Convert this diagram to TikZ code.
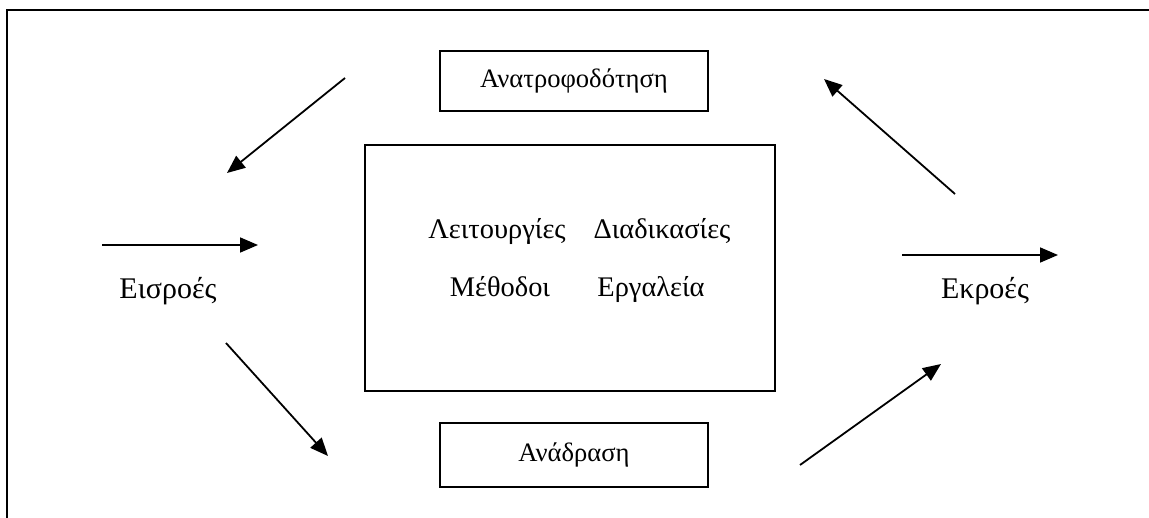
\documentclass[tikz,border=0pt]{standalone}
\usepackage{fontspec}
\setmainfont{Liberation Serif}
\usetikzlibrary{positioning,arrows.meta}
\tikzset{label box/.style={draw,line width=1pt,minimum width=134pt,minimum height=30pt,font=\fontsize{13.3}{16}\selectfont},
         core box/.style={draw,line width=1pt,minimum width=205pt,minimum height=123pt},
         core text/.style={anchor=base,font=\fontsize{14.2}{17}\selectfont},
         side text/.style={anchor=base,font=\fontsize{15}{18}\selectfont},
         flow/.style={line width=0.9pt,-{Triangle[length=9pt,width=7.5pt]}},}

\begin{document}
\begin{tikzpicture}[x=0.5pt,y=-0.5pt]
        \useasboundingbox (0,0) rectangle (1149,518);
        % Frame
        \draw[line width=1pt] (7,518) -- (7,10) -- (1149,10);
        % Nodes
        \node[core box] (core) at (570,268) {};
        \node[label box] (feedback) at (574,81) {Ανατροφοδότηση};
        \node[label box,minimum height=32pt] (response) at (574,455) {Ανάδραση};
        \node[core text] (functions) at (497,238) {Λειτουργίες};
        \node[core text] (procedures) at (662,238) {Διαδικασίες};
        \node[core text] (methods) at (500,296) {Μέθοδοι};
        \node[core text] (tools) at (651,296) {Εργαλεία};
        \node[side text] (inputs) at (168,298) {Εισροές};
        \node[side text] (outputs) at (985,298) {Εκροές};
        % Arrow ends
        \coordinate (tl start) at (345,78);
        \coordinate (tl end) at (227,173);
        \coordinate (in start) at (102,245);
        \coordinate (in end) at (258,245);
        \coordinate (bl start) at (226,343);
        \coordinate (bl end) at (328,456);
        \coordinate (br start) at (800,465);
        \coordinate (br end) at (941,364);
        \coordinate (out start) at (902,255);
        \coordinate (out end) at (1058,255);
        \coordinate (tr start) at (955,194);
        \coordinate (tr end) at (824,79);
        % Paths
        \draw[flow] (tl start) -- (tl end);
        \draw[flow] (in start) -- (in end);
        \draw[flow] (bl start) -- (bl end);
        \draw[flow] (br start) -- (br end);
        \draw[flow] (out start) -- (out end);
        \draw[flow] (tr start) -- (tr end);
    \end{tikzpicture}
\end{document}
